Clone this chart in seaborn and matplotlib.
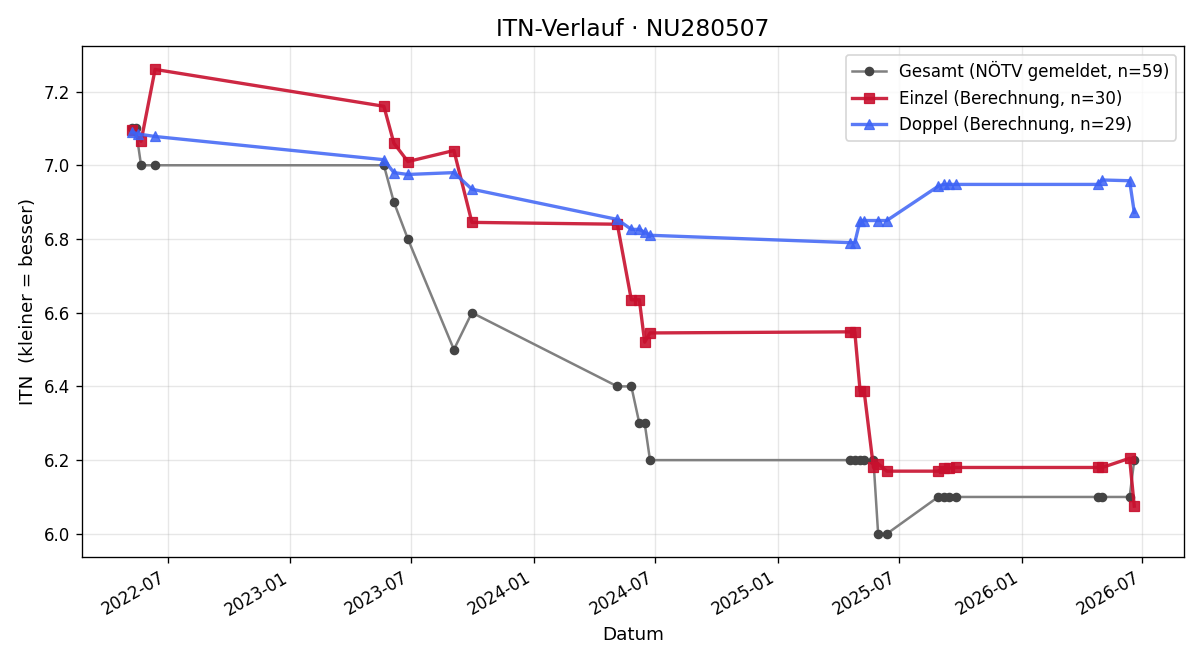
import pandas as pd
import seaborn as sns
import matplotlib.pyplot as plt
import matplotlib.dates as mdates

# Gesamt (NÖTV gemeldet)
gesamt_dates = [
    "2022-05-09", "2022-05-14", "2022-05-22", "2022-06-12",
    "2023-05-21", "2023-06-05", "2023-06-26", "2023-09-03", "2023-09-30",
    "2024-05-05", "2024-05-26", "2024-06-07", "2024-06-15", "2024-06-23",
    "2025-04-19", "2025-04-26", "2025-05-04", "2025-05-10", "2025-05-24",
    "2025-05-31", "2025-06-13",
    "2025-08-29", "2025-09-06", "2025-09-14", "2025-09-25",
    "2026-04-25", "2026-05-02", "2026-06-12", "2026-06-19",
]
gesamt_itn = [
    7.1, 7.1, 7.0, 7.0,
    7.0, 6.9, 6.8, 6.5, 6.6,
    6.4, 6.4, 6.3, 6.3, 6.2,
    6.2, 6.2, 6.2, 6.2, 6.2,
    6.0, 6.0,
    6.1, 6.1, 6.1, 6.1,
    6.1, 6.1, 6.1, 6.2,
]

# Einzel (Berechnung)
einzel_dates = [
    "2022-05-08", "2022-05-22", "2022-06-12",
    "2023-05-21", "2023-06-05", "2023-06-26", "2023-09-03", "2023-09-30",
    "2024-05-05", "2024-05-26", "2024-06-07", "2024-06-15", "2024-06-23",
    "2025-04-19", "2025-04-26", "2025-05-04", "2025-05-10", "2025-05-24",
    "2025-05-31", "2025-06-13",
    "2025-08-29", "2025-09-06", "2025-09-14", "2025-09-25",
    "2026-04-25", "2026-05-02", "2026-06-12", "2026-06-19",
]
einzel_itn = [
    7.095, 7.065, 7.26,
    7.16, 7.06, 7.01, 7.04, 6.845,
    6.84, 6.635, 6.635, 6.52, 6.545,
    6.548, 6.548, 6.387, 6.387, 6.18,
    6.19, 6.17,
    6.17, 6.178, 6.178, 6.18,
    6.18, 6.18, 6.205, 6.075,
]

# Doppel (Berechnung)
doppel_dates = [
    "2022-05-09", "2022-05-17", "2022-06-12",
    "2023-05-21", "2023-06-05", "2023-06-26", "2023-09-03", "2023-09-30",
    "2024-05-05", "2024-05-26", "2024-06-07", "2024-06-15", "2024-06-23",
    "2025-04-19", "2025-04-26", "2025-05-04", "2025-05-10",
    "2025-05-31", "2025-06-13",
    "2025-08-29", "2025-09-06", "2025-09-14", "2025-09-25",
    "2026-04-25", "2026-05-02", "2026-06-12", "2026-06-19",
]
doppel_itn = [
    7.09, 7.085, 7.078,
    7.015, 6.98, 6.975, 6.98, 6.935,
    6.853, 6.826, 6.826, 6.818, 6.81,
    6.79, 6.79, 6.85, 6.85,
    6.85, 6.85,
    6.943, 6.948, 6.948, 6.948,
    6.948, 6.96, 6.958, 6.872,
]

gesamt = pd.DataFrame({"datum": pd.to_datetime(gesamt_dates), "itn": gesamt_itn})
einzel = pd.DataFrame({"datum": pd.to_datetime(einzel_dates), "itn": einzel_itn})
doppel = pd.DataFrame({"datum": pd.to_datetime(doppel_dates), "itn": doppel_itn})

fig, ax = plt.subplots(figsize=(10, 5.5), dpi=120)

sns.lineplot(data=gesamt, x="datum", y="itn", ax=ax, color="gray",
             marker="o", markersize=5, linewidth=1.5,
             markerfacecolor="#444444", markeredgecolor="#444444",
             label="Gesamt (NÖTV gemeldet, n=59)")
sns.lineplot(data=einzel, x="datum", y="itn", ax=ax, color="#c8102e", alpha=0.9,
             marker="s", markersize=6, linewidth=2, markeredgecolor="#c8102e",
             label="Einzel (Berechnung, n=30)")
sns.lineplot(data=doppel, x="datum", y="itn", ax=ax, color="#3d63f5", alpha=0.85,
             marker="^", markersize=6, linewidth=2, markeredgecolor="#3d63f5",
             label="Doppel (Berechnung, n=29)")

ax.set_title("ITN-Verlauf · NU280507", fontsize=14)
ax.set_xlabel("Datum", fontsize=11)
ax.set_ylabel("ITN  (kleiner = besser)", fontsize=11)
ax.grid(True, alpha=0.3)
ax.xaxis.set_major_formatter(mdates.DateFormatter("%Y-%m"))
ax.legend(loc="upper right")
fig.autofmt_xdate()
fig.subplots_adjust(left=0.068, right=0.987, top=0.93, bottom=0.156)
fig.savefig("out.png")
